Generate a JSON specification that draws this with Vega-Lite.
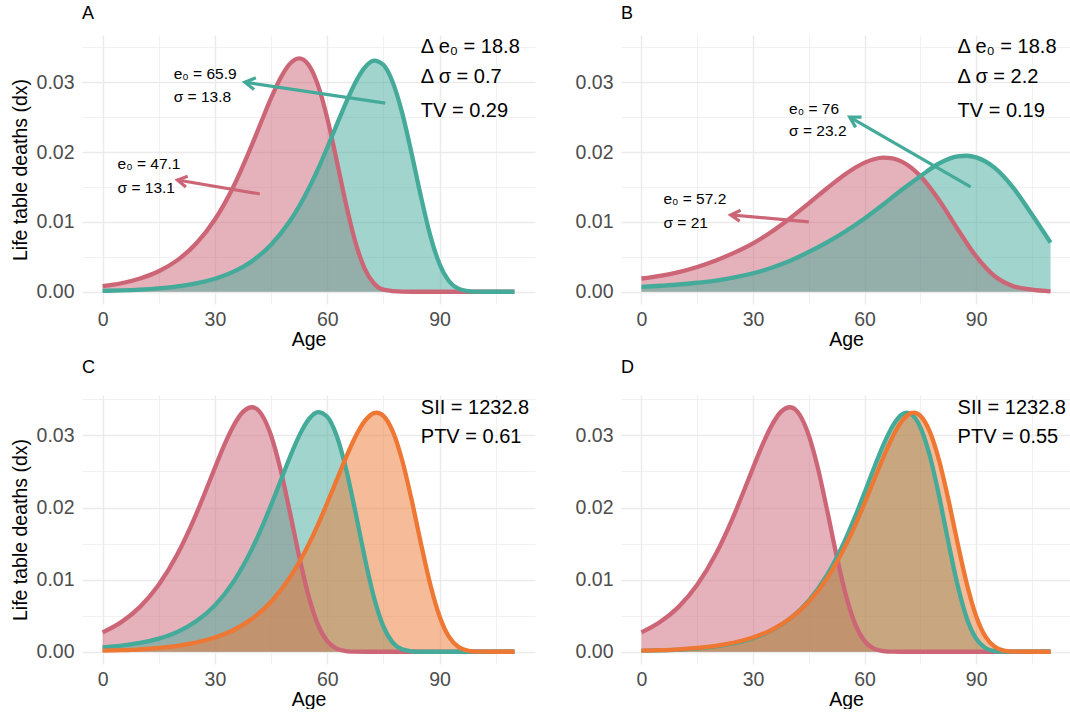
{
  "$schema": "https://vega.github.io/schema/vega-lite/v6.json",
  "background": "white",
  "padding": {"left": 10, "top": 5, "right": 0, "bottom": 0},
  "config": {
    "view": {"stroke": null},
    "font": "Liberation Sans",
    "style": {"group-title": {"fontSize": 18, "fontWeight": "normal", "font": "Liberation Sans", "color": "#000000"}},
    "axis": {
      "domain": false,
      "ticks": false,
      "tickSize": 0,
      "labelColor": "#4D4D4D",
      "labelFontSize": 19.5,
      "labelFont": "Liberation Sans",
      "titleFont": "Liberation Sans",
      "titleFontSize": 19.5,
      "titleFontWeight": "normal",
      "titleColor": "#000000",
      "gridColor": "#EBEBEB",
      "labelOverlap": false,
      "labelFlush": false
    },
    "title": {"font": "Liberation Sans", "fontSize": 18, "fontWeight": "normal", "color": "#000000", "anchor": "start", "frame": "group", "baseline": "alphabetic", "offset": 12}
  },
  "datasets": {
    "curves": [
      {"panel":"A","group":"p1","age":0,"dx":0.0008},{"panel":"A","group":"p1","age":5,"dx":0.00122},{"panel":"A","group":"p1","age":10,"dx":0.0019},{"panel":"A","group":"p1","age":15,"dx":0.00294},{"panel":"A","group":"p1","age":20,"dx":0.00453},{"panel":"A","group":"p1","age":25,"dx":0.0069},{"panel":"A","group":"p1","age":30,"dx":0.01034},{"panel":"A","group":"p1","age":35,"dx":0.01511},{"panel":"A","group":"p1","age":40,"dx":0.02117},{"panel":"A","group":"p1","age":42.5,"dx":0.02447},{"panel":"A","group":"p1","age":45,"dx":0.0277},{"panel":"A","group":"p1","age":47.5,"dx":0.03056},{"panel":"A","group":"p1","age":50,"dx":0.03262},{"panel":"A","group":"p1","age":52.5,"dx":0.0334},{"panel":"A","group":"p1","age":55,"dx":0.03249},{"panel":"A","group":"p1","age":57.5,"dx":0.02961},{"panel":"A","group":"p1","age":60,"dx":0.02488},{"panel":"A","group":"p1","age":62.5,"dx":0.01887},{"panel":"A","group":"p1","age":65,"dx":0.01259},{"panel":"A","group":"p1","age":67.5,"dx":0.00715},{"panel":"A","group":"p1","age":70,"dx":0.00332},{"panel":"A","group":"p1","age":72.5,"dx":0.00119},{"panel":"A","group":"p1","age":75,"dx":0.00031},{"panel":"A","group":"p1","age":80,"dx":0.00001},{"panel":"A","group":"p1","age":85,"dx":0},{"panel":"A","group":"p1","age":90,"dx":0},{"panel":"A","group":"p1","age":100,"dx":0},{"panel":"A","group":"p1","age":110,"dx":0},
      {"panel":"A","group":"p2","age":0,"dx":0.00013},{"panel":"A","group":"p2","age":5,"dx":0.0002},{"panel":"A","group":"p2","age":10,"dx":0.00031},{"panel":"A","group":"p2","age":15,"dx":0.00049},{"panel":"A","group":"p2","age":20,"dx":0.00076},{"panel":"A","group":"p2","age":25,"dx":0.00119},{"panel":"A","group":"p2","age":30,"dx":0.00186},{"panel":"A","group":"p2","age":35,"dx":0.00288},{"panel":"A","group":"p2","age":40,"dx":0.00442},{"panel":"A","group":"p2","age":45,"dx":0.00674},{"panel":"A","group":"p2","age":50,"dx":0.01009},{"panel":"A","group":"p2","age":55,"dx":0.01472},{"panel":"A","group":"p2","age":57.5,"dx":0.01752},{"panel":"A","group":"p2","age":60,"dx":0.02061},{"panel":"A","group":"p2","age":62.5,"dx":0.02385},{"panel":"A","group":"p2","age":65,"dx":0.02705},{"panel":"A","group":"p2","age":67.5,"dx":0.02993},{"panel":"A","group":"p2","age":70,"dx":0.03209},{"panel":"A","group":"p2","age":72.5,"dx":0.03309},{"panel":"A","group":"p2","age":75,"dx":0.03249},{"panel":"A","group":"p2","age":77.5,"dx":0.02999},{"panel":"A","group":"p2","age":80,"dx":0.02564},{"panel":"A","group":"p2","age":82.5,"dx":0.01991},{"panel":"A","group":"p2","age":85,"dx":0.01371},{"panel":"A","group":"p2","age":87.5,"dx":0.00811},{"panel":"A","group":"p2","age":90,"dx":0.00397},{"panel":"A","group":"p2","age":92.5,"dx":0.00154},{"panel":"A","group":"p2","age":95,"dx":0.00044},{"panel":"A","group":"p2","age":97.5,"dx":0.00009},{"panel":"A","group":"p2","age":100,"dx":0.00001},{"panel":"A","group":"p2","age":105,"dx":0},{"panel":"A","group":"p2","age":110,"dx":0},
      {"panel":"B","group":"p1","age":0,"dx":0.0019},{"panel":"B","group":"p1","age":5,"dx":0.00228},{"panel":"B","group":"p1","age":10,"dx":0.00282},{"panel":"B","group":"p1","age":15,"dx":0.00355},{"panel":"B","group":"p1","age":20,"dx":0.00448},{"panel":"B","group":"p1","age":25,"dx":0.0056},{"panel":"B","group":"p1","age":30,"dx":0.00693},{"panel":"B","group":"p1","age":35,"dx":0.0086},{"panel":"B","group":"p1","age":40,"dx":0.01053},{"panel":"B","group":"p1","age":45,"dx":0.01265},{"panel":"B","group":"p1","age":50,"dx":0.01485},{"panel":"B","group":"p1","age":55,"dx":0.0169},{"panel":"B","group":"p1","age":60,"dx":0.01848},{"panel":"B","group":"p1","age":62.5,"dx":0.01897},{"panel":"B","group":"p1","age":65,"dx":0.01919},{"panel":"B","group":"p1","age":67.5,"dx":0.01909},{"panel":"B","group":"p1","age":70,"dx":0.01863},{"panel":"B","group":"p1","age":75,"dx":0.01656},{"panel":"B","group":"p1","age":80,"dx":0.01313},{"panel":"B","group":"p1","age":85,"dx":0.00898},{"panel":"B","group":"p1","age":90,"dx":0.00506},{"panel":"B","group":"p1","age":95,"dx":0.00222},{"panel":"B","group":"p1","age":100,"dx":0.0008},{"panel":"B","group":"p1","age":105,"dx":0.0003},{"panel":"B","group":"p1","age":110,"dx":0.00005},
      {"panel":"B","group":"p2","age":0,"dx":0.0007},{"panel":"B","group":"p2","age":5,"dx":0.00086},{"panel":"B","group":"p2","age":10,"dx":0.00104},{"panel":"B","group":"p2","age":15,"dx":0.00129},{"panel":"B","group":"p2","age":20,"dx":0.0016},{"panel":"B","group":"p2","age":25,"dx":0.00205},{"panel":"B","group":"p2","age":30,"dx":0.00265},{"panel":"B","group":"p2","age":35,"dx":0.00345},{"panel":"B","group":"p2","age":40,"dx":0.00445},{"panel":"B","group":"p2","age":45,"dx":0.0057},{"panel":"B","group":"p2","age":50,"dx":0.0071},{"panel":"B","group":"p2","age":55,"dx":0.0087},{"panel":"B","group":"p2","age":60,"dx":0.0105},{"panel":"B","group":"p2","age":65,"dx":0.0125},{"panel":"B","group":"p2","age":70,"dx":0.0146},{"panel":"B","group":"p2","age":75,"dx":0.01655},{"panel":"B","group":"p2","age":80,"dx":0.01836},{"panel":"B","group":"p2","age":85,"dx":0.01938},{"panel":"B","group":"p2","age":87.5,"dx":0.01947},{"panel":"B","group":"p2","age":90,"dx":0.01923},{"panel":"B","group":"p2","age":95,"dx":0.01773},{"panel":"B","group":"p2","age":100,"dx":0.01487},{"panel":"B","group":"p2","age":105,"dx":0.01105},{"panel":"B","group":"p2","age":110,"dx":0.00703},
      {"panel":"C","group":"p1","age":0,"dx":0.00269},{"panel":"C","group":"p1","age":5,"dx":0.00411},{"panel":"C","group":"p1","age":10,"dx":0.00622},{"panel":"C","group":"p1","age":15,"dx":0.00928},{"panel":"C","group":"p1","age":20,"dx":0.01354},{"panel":"C","group":"p1","age":25,"dx":0.01909},{"panel":"C","group":"p1","age":27.5,"dx":0.02225},{"panel":"C","group":"p1","age":30,"dx":0.0255},{"panel":"C","group":"p1","age":32.5,"dx":0.02865},{"panel":"C","group":"p1","age":35,"dx":0.03136},{"panel":"C","group":"p1","age":37.5,"dx":0.03326},{"panel":"C","group":"p1","age":40,"dx":0.0339},{"panel":"C","group":"p1","age":42.5,"dx":0.03288},{"panel":"C","group":"p1","age":45,"dx":0.02999},{"panel":"C","group":"p1","age":47.5,"dx":0.02533},{"panel":"C","group":"p1","age":50,"dx":0.01944},{"panel":"C","group":"p1","age":52.5,"dx":0.01324},{"panel":"C","group":"p1","age":55,"dx":0.00778},{"panel":"C","group":"p1","age":57.5,"dx":0.0038},{"panel":"C","group":"p1","age":60,"dx":0.00147},{"panel":"C","group":"p1","age":62.5,"dx":0.00043},{"panel":"C","group":"p1","age":65,"dx":0.00009},{"panel":"C","group":"p1","age":67.5,"dx":0.00001},{"panel":"C","group":"p1","age":70,"dx":0},{"panel":"C","group":"p1","age":80,"dx":0},{"panel":"C","group":"p1","age":90,"dx":0},{"panel":"C","group":"p1","age":100,"dx":0},{"panel":"C","group":"p1","age":110,"dx":0},
      {"panel":"C","group":"p2","age":0,"dx":0.0006},{"panel":"C","group":"p2","age":5,"dx":0.00085},{"panel":"C","group":"p2","age":10,"dx":0.00122},{"panel":"C","group":"p2","age":15,"dx":0.00182},{"panel":"C","group":"p2","age":20,"dx":0.00275},{"panel":"C","group":"p2","age":25,"dx":0.00422},{"panel":"C","group":"p2","age":30,"dx":0.00643},{"panel":"C","group":"p2","age":35,"dx":0.00973},{"panel":"C","group":"p2","age":40,"dx":0.01436},{"panel":"C","group":"p2","age":42.5,"dx":0.0172},{"panel":"C","group":"p2","age":45,"dx":0.02033},{"panel":"C","group":"p2","age":47.5,"dx":0.02364},{"panel":"C","group":"p2","age":50,"dx":0.02694},{"panel":"C","group":"p2","age":52.5,"dx":0.02993},{"panel":"C","group":"p2","age":55,"dx":0.03218},{"panel":"C","group":"p2","age":57.5,"dx":0.03323},{"panel":"C","group":"p2","age":60,"dx":0.03259},{"panel":"C","group":"p2","age":62.5,"dx":0.02998},{"panel":"C","group":"p2","age":65,"dx":0.02542},{"panel":"C","group":"p2","age":67.5,"dx":0.01946},{"panel":"C","group":"p2","age":70,"dx":0.01311},{"panel":"C","group":"p2","age":72.5,"dx":0.00751},{"panel":"C","group":"p2","age":75,"dx":0.00351},{"panel":"C","group":"p2","age":77.5,"dx":0.00127},{"panel":"C","group":"p2","age":80,"dx":0.00033},{"panel":"C","group":"p2","age":82.5,"dx":0.00006},{"panel":"C","group":"p2","age":85,"dx":0},{"panel":"C","group":"p2","age":90,"dx":0},{"panel":"C","group":"p2","age":100,"dx":0},{"panel":"C","group":"p2","age":110,"dx":0},
      {"panel":"C","group":"p3","age":0,"dx":0.00015},{"panel":"C","group":"p3","age":5,"dx":0.00022},{"panel":"C","group":"p3","age":10,"dx":0.00034},{"panel":"C","group":"p3","age":15,"dx":0.00054},{"panel":"C","group":"p3","age":20,"dx":0.00083},{"panel":"C","group":"p3","age":25,"dx":0.00128},{"panel":"C","group":"p3","age":30,"dx":0.00197},{"panel":"C","group":"p3","age":35,"dx":0.00302},{"panel":"C","group":"p3","age":40,"dx":0.0046},{"panel":"C","group":"p3","age":45,"dx":0.00693},{"panel":"C","group":"p3","age":50,"dx":0.01027},{"panel":"C","group":"p3","age":55,"dx":0.01485},{"panel":"C","group":"p3","age":57.5,"dx":0.0176},{"panel":"C","group":"p3","age":60,"dx":0.02062},{"panel":"C","group":"p3","age":62.5,"dx":0.02379},{"panel":"C","group":"p3","age":65,"dx":0.02693},{"panel":"C","group":"p3","age":67.5,"dx":0.02978},{"panel":"C","group":"p3","age":70,"dx":0.03197},{"panel":"C","group":"p3","age":72.5,"dx":0.03309},{"panel":"C","group":"p3","age":73.2,"dx":0.03315},{"panel":"C","group":"p3","age":75,"dx":0.03271},{"panel":"C","group":"p3","age":77.5,"dx":0.03055},{"panel":"C","group":"p3","age":80,"dx":0.02658},{"panel":"C","group":"p3","age":82.5,"dx":0.02117},{"panel":"C","group":"p3","age":85,"dx":0.0151},{"panel":"C","group":"p3","age":87.5,"dx":0.00939},{"panel":"C","group":"p3","age":90,"dx":0.00492},{"panel":"C","group":"p3","age":92.5,"dx":0.00208},{"panel":"C","group":"p3","age":95,"dx":0.00068},{"panel":"C","group":"p3","age":97.5,"dx":0.00016},{"panel":"C","group":"p3","age":100,"dx":0.00002},{"panel":"C","group":"p3","age":105,"dx":0},{"panel":"C","group":"p3","age":110,"dx":0},
      {"panel":"D","group":"p1","age":0,"dx":0.00269},{"panel":"D","group":"p1","age":5,"dx":0.00411},{"panel":"D","group":"p1","age":10,"dx":0.00622},{"panel":"D","group":"p1","age":15,"dx":0.00928},{"panel":"D","group":"p1","age":20,"dx":0.01354},{"panel":"D","group":"p1","age":25,"dx":0.01909},{"panel":"D","group":"p1","age":27.5,"dx":0.02225},{"panel":"D","group":"p1","age":30,"dx":0.0255},{"panel":"D","group":"p1","age":32.5,"dx":0.02865},{"panel":"D","group":"p1","age":35,"dx":0.03136},{"panel":"D","group":"p1","age":37.5,"dx":0.03326},{"panel":"D","group":"p1","age":40,"dx":0.0339},{"panel":"D","group":"p1","age":42.5,"dx":0.03288},{"panel":"D","group":"p1","age":45,"dx":0.02999},{"panel":"D","group":"p1","age":47.5,"dx":0.02533},{"panel":"D","group":"p1","age":50,"dx":0.01944},{"panel":"D","group":"p1","age":52.5,"dx":0.01324},{"panel":"D","group":"p1","age":55,"dx":0.00778},{"panel":"D","group":"p1","age":57.5,"dx":0.0038},{"panel":"D","group":"p1","age":60,"dx":0.00147},{"panel":"D","group":"p1","age":62.5,"dx":0.00043},{"panel":"D","group":"p1","age":65,"dx":0.00009},{"panel":"D","group":"p1","age":67.5,"dx":0.00001},{"panel":"D","group":"p1","age":70,"dx":0},{"panel":"D","group":"p1","age":80,"dx":0},{"panel":"D","group":"p1","age":90,"dx":0},{"panel":"D","group":"p1","age":100,"dx":0},{"panel":"D","group":"p1","age":110,"dx":0},
      {"panel":"D","group":"p2","age":0,"dx":0.00012},{"panel":"D","group":"p2","age":5,"dx":0.00019},{"panel":"D","group":"p2","age":10,"dx":0.0003},{"panel":"D","group":"p2","age":15,"dx":0.00047},{"panel":"D","group":"p2","age":20,"dx":0.00075},{"panel":"D","group":"p2","age":25,"dx":0.00119},{"panel":"D","group":"p2","age":30,"dx":0.00188},{"panel":"D","group":"p2","age":35,"dx":0.00295},{"panel":"D","group":"p2","age":40,"dx":0.00461},{"panel":"D","group":"p2","age":45,"dx":0.0071},{"panel":"D","group":"p2","age":50,"dx":0.01074},{"panel":"D","group":"p2","age":55,"dx":0.01577},{"panel":"D","group":"p2","age":57.5,"dx":0.0188},{"panel":"D","group":"p2","age":60,"dx":0.02207},{"panel":"D","group":"p2","age":62.5,"dx":0.02544},{"panel":"D","group":"p2","age":65,"dx":0.02862},{"panel":"D","group":"p2","age":67.5,"dx":0.03126},{"panel":"D","group":"p2","age":70,"dx":0.03288},{"panel":"D","group":"p2","age":71.4,"dx":0.03315},{"panel":"D","group":"p2","age":72.5,"dx":0.03297},{"panel":"D","group":"p2","age":75,"dx":0.03112},{"panel":"D","group":"p2","age":77.5,"dx":0.02724},{"panel":"D","group":"p2","age":80,"dx":0.02166},{"panel":"D","group":"p2","age":82.5,"dx":0.01527},{"panel":"D","group":"p2","age":85,"dx":0.00924},{"panel":"D","group":"p2","age":87.5,"dx":0.00461},{"panel":"D","group":"p2","age":90,"dx":0.00181},{"panel":"D","group":"p2","age":92.5,"dx":0.00052},{"panel":"D","group":"p2","age":95,"dx":0.0001},{"panel":"D","group":"p2","age":97.5,"dx":0.00001},{"panel":"D","group":"p2","age":100,"dx":0},{"panel":"D","group":"p2","age":105,"dx":0},{"panel":"D","group":"p2","age":110,"dx":0},
      {"panel":"D","group":"p3","age":0,"dx":0.00015},{"panel":"D","group":"p3","age":5,"dx":0.00022},{"panel":"D","group":"p3","age":10,"dx":0.00034},{"panel":"D","group":"p3","age":15,"dx":0.00054},{"panel":"D","group":"p3","age":20,"dx":0.00083},{"panel":"D","group":"p3","age":25,"dx":0.00128},{"panel":"D","group":"p3","age":30,"dx":0.00197},{"panel":"D","group":"p3","age":35,"dx":0.00302},{"panel":"D","group":"p3","age":40,"dx":0.0046},{"panel":"D","group":"p3","age":45,"dx":0.00693},{"panel":"D","group":"p3","age":50,"dx":0.01027},{"panel":"D","group":"p3","age":55,"dx":0.01485},{"panel":"D","group":"p3","age":57.5,"dx":0.0176},{"panel":"D","group":"p3","age":60,"dx":0.02062},{"panel":"D","group":"p3","age":62.5,"dx":0.02379},{"panel":"D","group":"p3","age":65,"dx":0.02693},{"panel":"D","group":"p3","age":67.5,"dx":0.02978},{"panel":"D","group":"p3","age":70,"dx":0.03197},{"panel":"D","group":"p3","age":72.5,"dx":0.03309},{"panel":"D","group":"p3","age":73.2,"dx":0.03315},{"panel":"D","group":"p3","age":75,"dx":0.03271},{"panel":"D","group":"p3","age":77.5,"dx":0.03055},{"panel":"D","group":"p3","age":80,"dx":0.02658},{"panel":"D","group":"p3","age":82.5,"dx":0.02117},{"panel":"D","group":"p3","age":85,"dx":0.0151},{"panel":"D","group":"p3","age":87.5,"dx":0.00939},{"panel":"D","group":"p3","age":90,"dx":0.00492},{"panel":"D","group":"p3","age":92.5,"dx":0.00208},{"panel":"D","group":"p3","age":95,"dx":0.00068},{"panel":"D","group":"p3","age":97.5,"dx":0.00016},{"panel":"D","group":"p3","age":100,"dx":0.00002},{"panel":"D","group":"p3","age":105,"dx":0},{"panel":"D","group":"p3","age":110,"dx":0}
    ],
    "notes": [
      {"panel":"A","age":85,"dx":0.0342,"text":"Δ e₀ = 18.8"},
      {"panel":"A","age":85,"dx":0.0299,"text":"Δ σ = 0.7"},
      {"panel":"A","age":85,"dx":0.025,"text":"TV = 0.29"},
      {"panel":"B","age":85,"dx":0.0342,"text":"Δ e₀ = 18.8"},
      {"panel":"B","age":85,"dx":0.0299,"text":"Δ σ = 2.2"},
      {"panel":"B","age":85,"dx":0.025,"text":"TV = 0.19"},
      {"panel":"C","age":85,"dx":0.033,"text":"SII = 1232.8"},
      {"panel":"C","age":85,"dx":0.029,"text":"PTV = 0.61"},
      {"panel":"D","age":85,"dx":0.033,"text":"SII = 1232.8"},
      {"panel":"D","age":85,"dx":0.029,"text":"PTV = 0.55"}
    ],
    "labels": [
      {"panel":"A","age":19,"dx":0.0304,"text":"e₀ = 65.9"},
      {"panel":"A","age":19,"dx":0.0272,"text":"σ = 13.8"},
      {"panel":"A","age":4,"dx":0.01751,"text":"e₀ = 47.1"},
      {"panel":"A","age":4,"dx":0.01416,"text":"σ = 13.1"},
      {"panel":"B","age":39.7,"dx":0.02538,"text":"e₀ = 76"},
      {"panel":"B","age":39.7,"dx":0.02227,"text":"σ = 23.2"},
      {"panel":"B","age":5.9,"dx":0.0125,"text":"e₀ = 57.2"},
      {"panel":"B","age":5.9,"dx":0.00916,"text":"σ = 21"}
    ],
    "arrows": [
      {"panel":"A","id":"A1","group":"p1","age":20,"dx":0.016,"age2":42,"dx2":0.014},
      {"panel":"A","id":"A2","group":"p2","age":38,"dx":0.03,"age2":75.5,"dx2":0.027},
      {"panel":"B","id":"B1","group":"p1","age":24,"dx":0.011,"age2":45,"dx2":0.01},
      {"panel":"B","id":"B2","group":"p2","age":56,"dx":0.025,"age2":88.5,"dx2":0.015}
    ]
  },
  "spacing": 10,
  "vconcat": [
    {
      "spacing": 40,
      "hconcat": [
        {
          "title": "A",
          "width": 453, "height": 269,
          "encoding": {
            "x": {"field": "age", "type": "quantitative", "title": "Age",
              "scale": {"domain": [-5.5, 115.5], "nice": false, "zero": false},
              "axis": {"values": [0,15,30,45,60,75,90,105], "labelExpr": "datum.value % 30 === 0 ? datum.label : ''", "gridWidth": {"condition": {"test": "datum.value % 30 === 0", "value": 1.4}, "value": 0.7}, "labelPadding": 6, "titlePadding": 2}},
            "y": {"field": "dx", "type": "quantitative", "title": "Life table deaths (dx)", "stack": null,
              "scale": {"domain": [-0.00175, 0.03675], "nice": false, "zero": false},
              "axis": {"values": [0,0.005,0.01,0.015,0.02,0.025,0.03,0.035], "labelExpr": "round(datum.value*1000) % 10 === 0 ? format(datum.value, '.2f') : ''", "gridWidth": {"condition": {"test": "round(datum.value*1000) % 10 === 0", "value": 1.4}, "value": 0.7}, "labelPadding": 8, "titlePadding": 6}}
          },
          "layer": [
            {"data": {"name": "curves"}, "transform": [{"filter": "datum.panel === 'A'"}],
             "mark": {"type": "area", "opacity": 0.5, "interpolate": "monotone"},
             "encoding": {"y2": {"datum": 0}, "color": {"field": "group", "type": "nominal", "scale": {"domain": ["p1","p2","p3"], "range": ["#CC6677","#44AA99","#EE7733"]}, "legend": null}}},
            {"data": {"name": "curves"}, "transform": [{"filter": "datum.panel === 'A'"}],
             "mark": {"type": "line", "strokeWidth": 4.3, "interpolate": "monotone", "strokeJoin": "round"},
             "encoding": {"color": {"field": "group", "type": "nominal", "scale": {"domain": ["p1","p2","p3"], "range": ["#CC6677","#44AA99","#EE7733"]}, "legend": null}}},
            {"data": {"name": "arrows"}, "transform": [{"filter": "datum.panel === 'A'"}],
             "mark": {"type": "rule", "strokeWidth": 3.2},
             "encoding": {"x2": {"field": "age2"}, "y2": {"field": "dx2"}, "color": {"field": "group", "type": "nominal", "scale": {"domain": ["p1","p2","p3"], "range": ["#CC6677","#44AA99","#EE7733"]}, "legend": null}}},
            {"data": {"name": "arrows"}, "transform": [{"filter": "datum.id === 'A1'"}],
             "mark": {"type": "point", "shape": "M-1.732,-1L0,0L-1.732,1", "filled": false, "size": 120, "strokeWidth": 3.2, "opacity": 1, "angle": 189.7},
             "encoding": {"color": {"field": "group", "type": "nominal", "scale": {"domain": ["p1","p2","p3"], "range": ["#CC6677","#44AA99","#EE7733"]}, "legend": null}}},
            {"data": {"name": "arrows"}, "transform": [{"filter": "datum.id === 'A2'"}],
             "mark": {"type": "point", "shape": "M-1.732,-1L0,0L-1.732,1", "filled": false, "size": 140, "strokeWidth": 3.2, "opacity": 1, "angle": 188.5},
             "encoding": {"color": {"field": "group", "type": "nominal", "scale": {"domain": ["p1","p2","p3"], "range": ["#CC6677","#44AA99","#EE7733"]}, "legend": null}}},
            {"data": {"name": "notes"}, "transform": [{"filter": "datum.panel === 'A'"}],
             "mark": {"type": "text", "align": "left", "baseline": "alphabetic", "fontSize": 20, "color": "#000000"},
             "encoding": {"text": {"field": "text"}}},
            {"data": {"name": "labels"}, "transform": [{"filter": "datum.panel === 'A'"}],
             "mark": {"type": "text", "align": "left", "baseline": "alphabetic", "fontSize": 15.5, "color": "#000000"},
             "encoding": {"text": {"field": "text"}}}
          ]
        },
        {
          "title": "B",
          "width": 450, "height": 269,
          "encoding": {
            "x": {"field": "age", "type": "quantitative", "title": "Age",
              "scale": {"domain": [-5.5, 115.5], "nice": false, "zero": false},
              "axis": {"values": [0,15,30,45,60,75,90,105], "labelExpr": "datum.value % 30 === 0 ? datum.label : ''", "gridWidth": {"condition": {"test": "datum.value % 30 === 0", "value": 1.4}, "value": 0.7}, "labelPadding": 6, "titlePadding": 2}},
            "y": {"field": "dx", "type": "quantitative", "title": null, "stack": null,
              "scale": {"domain": [-0.00175, 0.03675], "nice": false, "zero": false},
              "axis": {"values": [0,0.005,0.01,0.015,0.02,0.025,0.03,0.035], "labelExpr": "round(datum.value*1000) % 10 === 0 ? format(datum.value, '.2f') : ''", "gridWidth": {"condition": {"test": "round(datum.value*1000) % 10 === 0", "value": 1.4}, "value": 0.7}, "labelPadding": 8}}
          },
          "layer": [
            {"data": {"name": "curves"}, "transform": [{"filter": "datum.panel === 'B'"}],
             "mark": {"type": "area", "opacity": 0.5, "interpolate": "monotone"},
             "encoding": {"y2": {"datum": 0}, "color": {"field": "group", "type": "nominal", "scale": {"domain": ["p1","p2","p3"], "range": ["#CC6677","#44AA99","#EE7733"]}, "legend": null}}},
            {"data": {"name": "curves"}, "transform": [{"filter": "datum.panel === 'B'"}],
             "mark": {"type": "line", "strokeWidth": 4.3, "interpolate": "monotone", "strokeJoin": "round"},
             "encoding": {"color": {"field": "group", "type": "nominal", "scale": {"domain": ["p1","p2","p3"], "range": ["#CC6677","#44AA99","#EE7733"]}, "legend": null}}},
            {"data": {"name": "arrows"}, "transform": [{"filter": "datum.panel === 'B'"}],
             "mark": {"type": "rule", "strokeWidth": 3.2},
             "encoding": {"x2": {"field": "age2"}, "y2": {"field": "dx2"}, "color": {"field": "group", "type": "nominal", "scale": {"domain": ["p1","p2","p3"], "range": ["#CC6677","#44AA99","#EE7733"]}, "legend": null}}},
            {"data": {"name": "arrows"}, "transform": [{"filter": "datum.id === 'B1'"}],
             "mark": {"type": "point", "shape": "M-1.732,-1L0,0L-1.732,1", "filled": false, "size": 120, "strokeWidth": 3.2, "opacity": 1, "angle": 185.1},
             "encoding": {"color": {"field": "group", "type": "nominal", "scale": {"domain": ["p1","p2","p3"], "range": ["#CC6677","#44AA99","#EE7733"]}, "legend": null}}},
            {"data": {"name": "arrows"}, "transform": [{"filter": "datum.id === 'B2'"}],
             "mark": {"type": "point", "shape": "M-1.732,-1L0,0L-1.732,1", "filled": false, "size": 140, "strokeWidth": 3.2, "opacity": 1, "angle": 210},
             "encoding": {"color": {"field": "group", "type": "nominal", "scale": {"domain": ["p1","p2","p3"], "range": ["#CC6677","#44AA99","#EE7733"]}, "legend": null}}},
            {"data": {"name": "notes"}, "transform": [{"filter": "datum.panel === 'B'"}],
             "mark": {"type": "text", "align": "left", "baseline": "alphabetic", "fontSize": 20, "color": "#000000"},
             "encoding": {"text": {"field": "text"}}},
            {"data": {"name": "labels"}, "transform": [{"filter": "datum.panel === 'B'"}],
             "mark": {"type": "text", "align": "left", "baseline": "alphabetic", "fontSize": 15.5, "color": "#000000"},
             "encoding": {"text": {"field": "text"}}}
          ]
        }
      ]
    },
    {
      "spacing": 40,
      "hconcat": [
        {
          "title": "C",
          "width": 453, "height": 269,
          "encoding": {
            "x": {"field": "age", "type": "quantitative", "title": "Age",
              "scale": {"domain": [-5.5, 115.5], "nice": false, "zero": false},
              "axis": {"values": [0,15,30,45,60,75,90,105], "labelExpr": "datum.value % 30 === 0 ? datum.label : ''", "gridWidth": {"condition": {"test": "datum.value % 30 === 0", "value": 1.4}, "value": 0.7}, "labelPadding": 6, "titlePadding": 2}},
            "y": {"field": "dx", "type": "quantitative", "title": "Life table deaths (dx)", "stack": null,
              "scale": {"domain": [-0.0017, 0.0356], "nice": false, "zero": false},
              "axis": {"values": [0,0.005,0.01,0.015,0.02,0.025,0.03,0.035], "labelExpr": "round(datum.value*1000) % 10 === 0 ? format(datum.value, '.2f') : ''", "gridWidth": {"condition": {"test": "round(datum.value*1000) % 10 === 0", "value": 1.4}, "value": 0.7}, "labelPadding": 8, "titlePadding": 6}}
          },
          "layer": [
            {"data": {"name": "curves"}, "transform": [{"filter": "datum.panel === 'C'"}],
             "mark": {"type": "area", "opacity": 0.5, "interpolate": "monotone"},
             "encoding": {"y2": {"datum": 0}, "color": {"field": "group", "type": "nominal", "scale": {"domain": ["p1","p2","p3"], "range": ["#CC6677","#44AA99","#EE7733"]}, "legend": null}}},
            {"data": {"name": "curves"}, "transform": [{"filter": "datum.panel === 'C'"}],
             "mark": {"type": "line", "strokeWidth": 4.3, "interpolate": "monotone", "strokeJoin": "round"},
             "encoding": {"color": {"field": "group", "type": "nominal", "scale": {"domain": ["p1","p2","p3"], "range": ["#CC6677","#44AA99","#EE7733"]}, "legend": null}}},
            {"data": {"name": "notes"}, "transform": [{"filter": "datum.panel === 'C'"}],
             "mark": {"type": "text", "align": "left", "baseline": "alphabetic", "fontSize": 20, "color": "#000000"},
             "encoding": {"text": {"field": "text"}}}
          ]
        },
        {
          "title": "D",
          "width": 450, "height": 269,
          "encoding": {
            "x": {"field": "age", "type": "quantitative", "title": "Age",
              "scale": {"domain": [-5.5, 115.5], "nice": false, "zero": false},
              "axis": {"values": [0,15,30,45,60,75,90,105], "labelExpr": "datum.value % 30 === 0 ? datum.label : ''", "gridWidth": {"condition": {"test": "datum.value % 30 === 0", "value": 1.4}, "value": 0.7}, "labelPadding": 6, "titlePadding": 2}},
            "y": {"field": "dx", "type": "quantitative", "title": null, "stack": null,
              "scale": {"domain": [-0.0017, 0.0356], "nice": false, "zero": false},
              "axis": {"values": [0,0.005,0.01,0.015,0.02,0.025,0.03,0.035], "labelExpr": "round(datum.value*1000) % 10 === 0 ? format(datum.value, '.2f') : ''", "gridWidth": {"condition": {"test": "round(datum.value*1000) % 10 === 0", "value": 1.4}, "value": 0.7}, "labelPadding": 8}}
          },
          "layer": [
            {"data": {"name": "curves"}, "transform": [{"filter": "datum.panel === 'D'"}],
             "mark": {"type": "area", "opacity": 0.5, "interpolate": "monotone"},
             "encoding": {"y2": {"datum": 0}, "color": {"field": "group", "type": "nominal", "scale": {"domain": ["p1","p2","p3"], "range": ["#CC6677","#44AA99","#EE7733"]}, "legend": null}}},
            {"data": {"name": "curves"}, "transform": [{"filter": "datum.panel === 'D'"}],
             "mark": {"type": "line", "strokeWidth": 4.3, "interpolate": "monotone", "strokeJoin": "round"},
             "encoding": {"color": {"field": "group", "type": "nominal", "scale": {"domain": ["p1","p2","p3"], "range": ["#CC6677","#44AA99","#EE7733"]}, "legend": null}}},
            {"data": {"name": "notes"}, "transform": [{"filter": "datum.panel === 'D'"}],
             "mark": {"type": "text", "align": "left", "baseline": "alphabetic", "fontSize": 20, "color": "#000000"},
             "encoding": {"text": {"field": "text"}}}
          ]
        }
      ]
    }
  ]
}
